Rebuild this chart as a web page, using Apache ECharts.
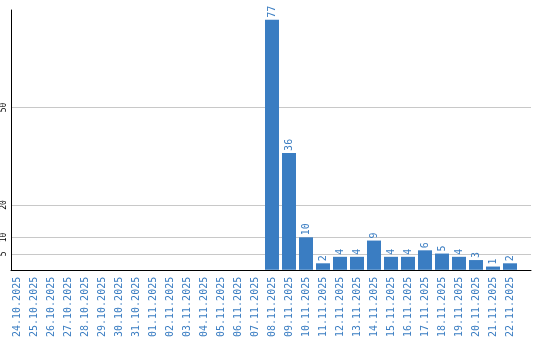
<!DOCTYPE html>
<html><head><meta charset="utf-8">
<script src="https://cdn.jsdelivr.net/npm/echarts@6/dist/echarts.min.js"></script>
<style>html,body{margin:0;padding:0;background:#fff}#c{width:540px;height:340px}</style>
</head><body><div id="c"></div>
<script>
var categories = ["24.10.2025","25.10.2025","26.10.2025","27.10.2025","28.10.2025","29.10.2025","30.10.2025","31.10.2025","01.11.2025","02.11.2025","03.11.2025","04.11.2025","05.11.2025","06.11.2025","07.11.2025","08.11.2025","09.11.2025","10.11.2025","11.11.2025","12.11.2025","13.11.2025","14.11.2025","15.11.2025","16.11.2025","17.11.2025","18.11.2025","19.11.2025","20.11.2025","21.11.2025","22.11.2025"];
var values = [0,0,0,0,0,0,0,0,0,0,0,0,0,0,0,77,36,10,2,4,4,9,4,4,6,5,4,3,1,2];
var yTickLabels = [5,10,20,50];

var blue = '#3a7dc2';
var font = 'DejaVu Sans Mono';
var gridColors = [];
for (var v = 0; v <= 80; v += 5) gridColors.push(yTickLabels.indexOf(v) >= 0 ? '#c8c8c8' : 'rgba(0,0,0,0)');

var chart = echarts.init(document.getElementById('c'));
chart.setOption({
  animation: false,
  grid: [
    {left: 11, right: 9, top: 10, bottom: 70, containLabel: false},
    {left: 8.5, right: 21.5, top: 10, bottom: 70, containLabel: false}
  ],
  xAxis: [{
    gridIndex: 0, type: 'category', data: categories,
    axisLine: {lineStyle: {color: '#000', width: 1}},
    axisTick: {show: false}, axisLabel: {show: false}
  }, {
    gridIndex: 1, type: 'category', data: categories,
    axisLine: {show: false},
    axisTick: {show: false},
    axisLabel: {rotate: 90, interval: 0, color: blue, fontFamily: font, fontSize: 10, margin: 7}
  }],
  yAxis: [{
    gridIndex: 0, type: 'value', min: 0, max: 80, interval: 5,
    axisLine: {show: true, lineStyle: {color: '#000', width: 1}},
    axisTick: {show: false},
    axisLabel: {
      rotate: 90, color: '#000', fontFamily: font, fontSize: 8, margin: 3,
      formatter: function (val) { return yTickLabels.indexOf(val) >= 0 ? String(val) : ''; }
    },
    splitLine: {show: true, lineStyle: {color: gridColors, width: 1}}
  }, {
    gridIndex: 1, type: 'value', min: 0, max: 80, interval: 5,
    show: false
  }],
  series: [{
    type: 'bar', xAxisIndex: 1, yAxisIndex: 1, data: values, barWidth: 14,
    itemStyle: {color: blue},
    label: {
      show: true, position: 'top', rotate: 90, align: 'left', verticalAlign: 'middle',
      distance: 2, color: blue, fontFamily: font, fontSize: 10,
      formatter: function (p) { return p.value ? String(p.value) : ''; }
    }
  }]
});
</script></body></html>
